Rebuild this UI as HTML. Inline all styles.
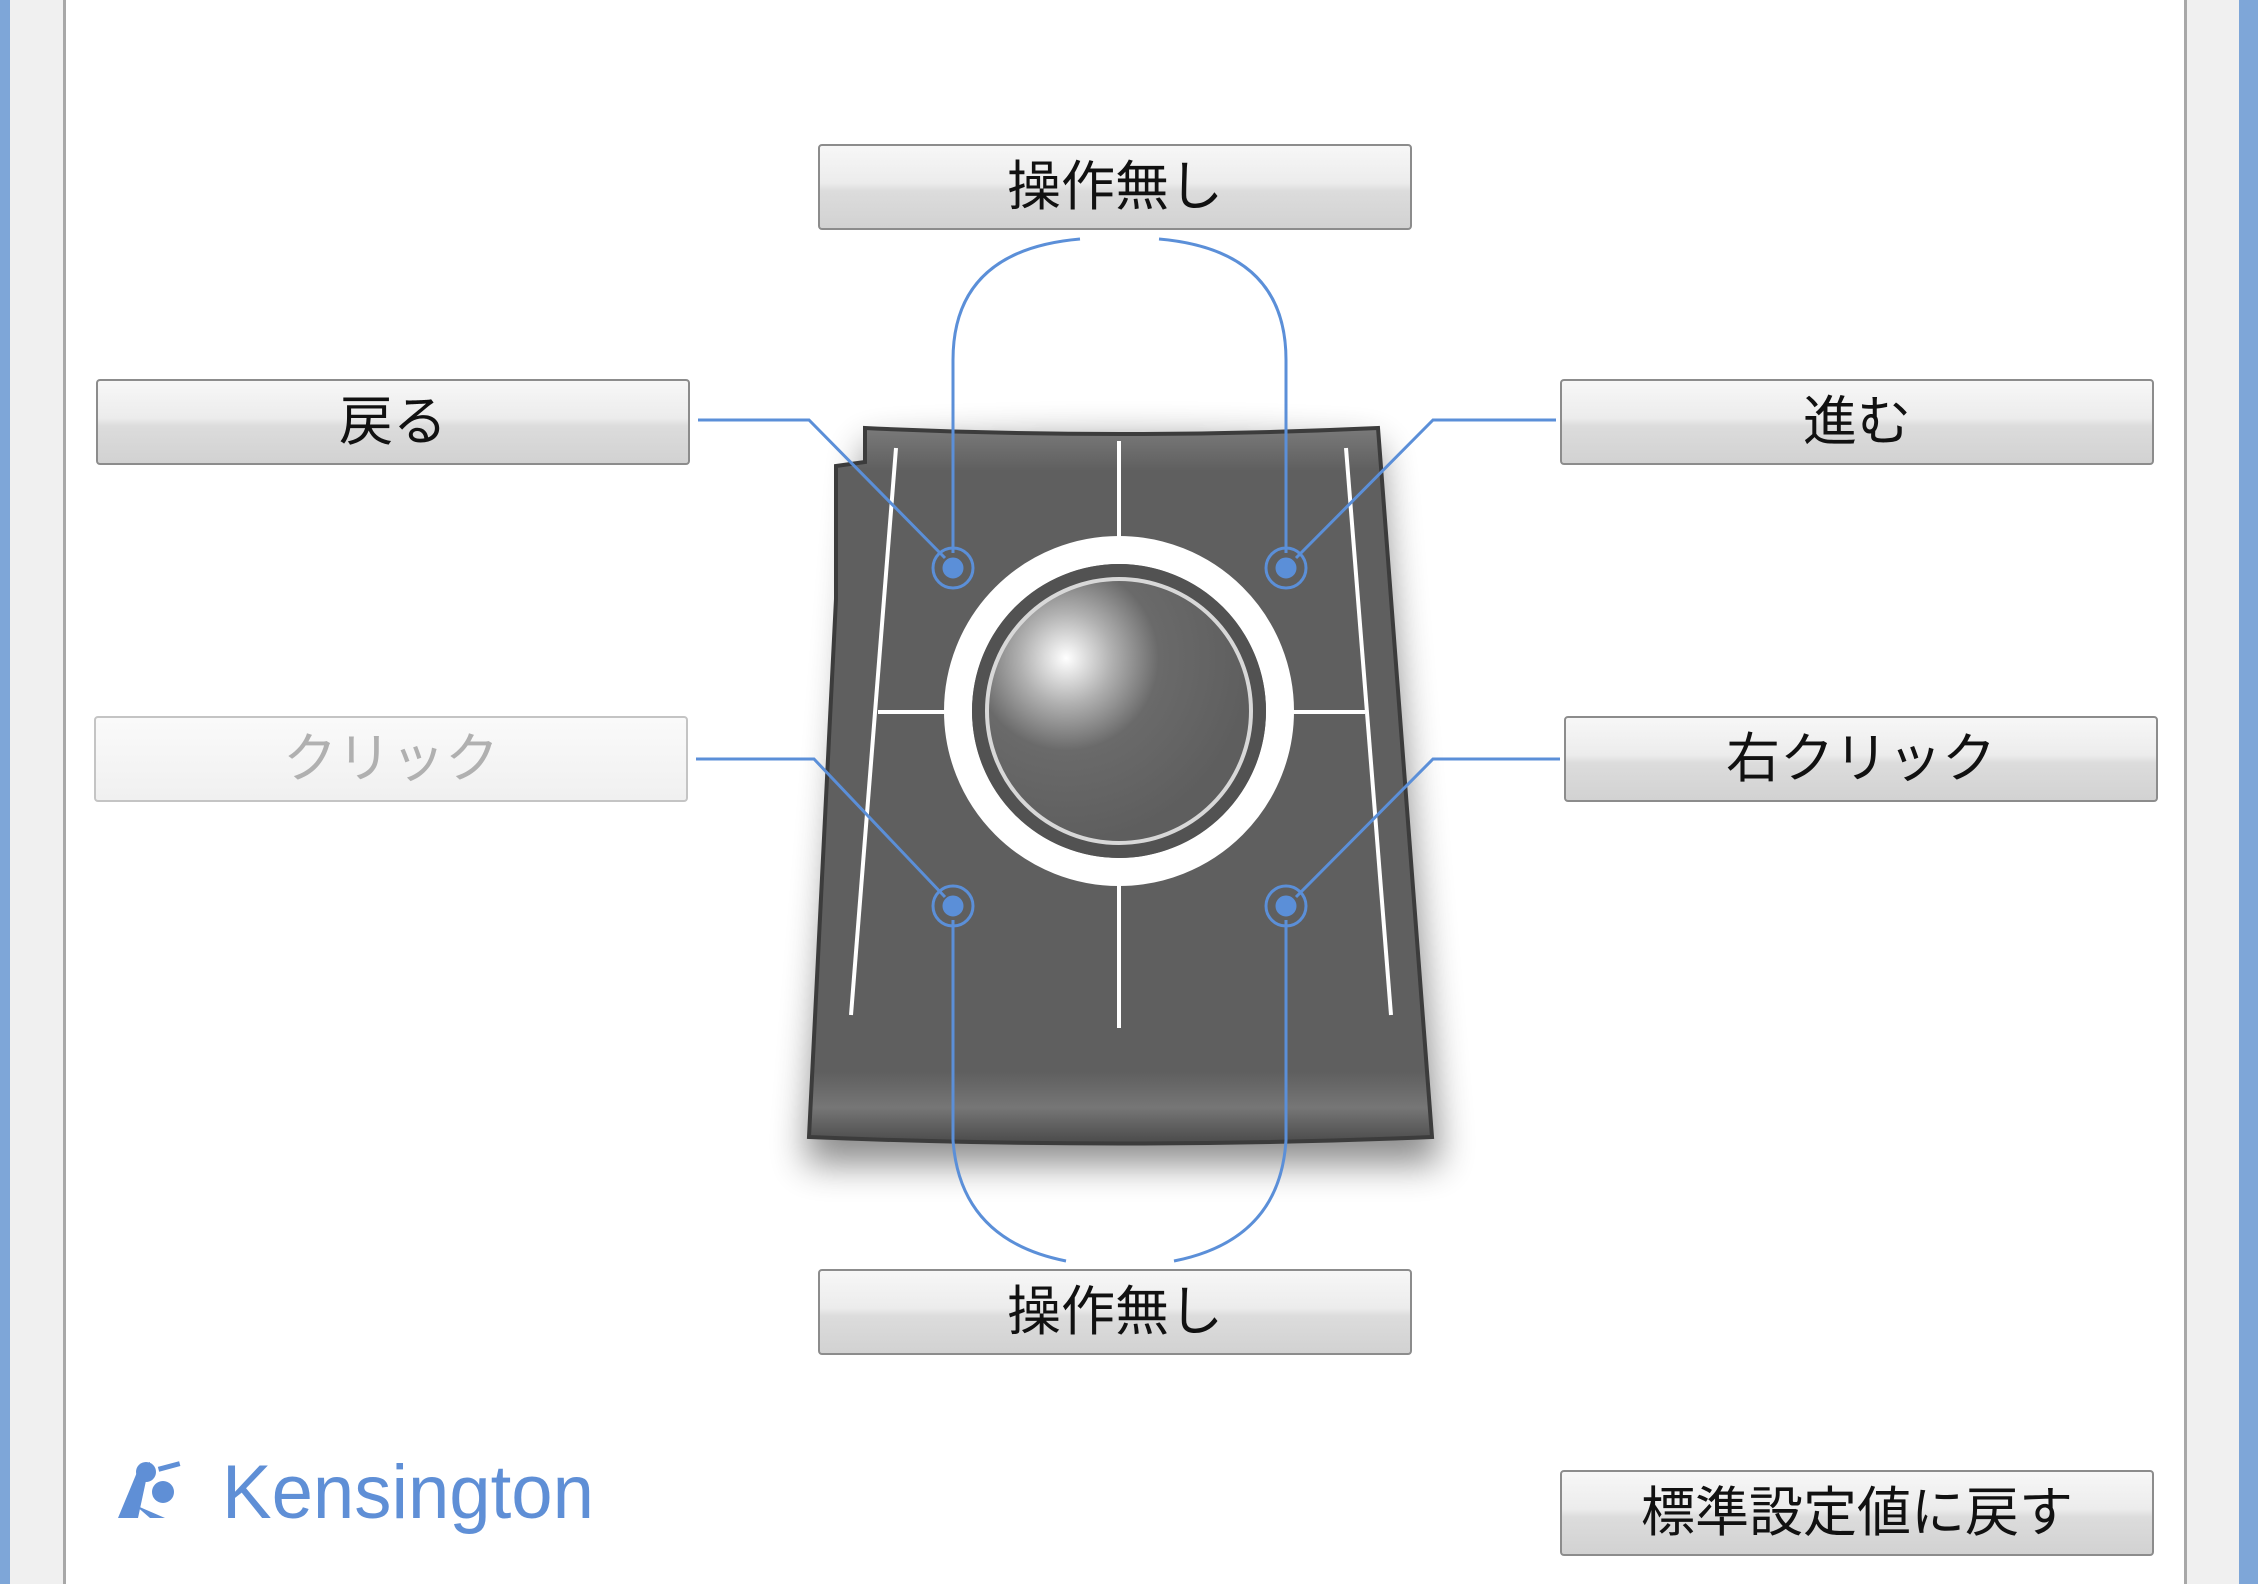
<!DOCTYPE html>
<html><head><meta charset="utf-8"><style>
html,body{margin:0;padding:0;width:2258px;height:1584px;overflow:hidden;background:#fff}
.btn{position:absolute;width:594px;height:86px;box-sizing:border-box;border:2px solid #8c8c8c;border-radius:4px;
background:linear-gradient(#f7f7f7 0%,#ececec 45%,#dcdcdc 55%,#d2d2d2 100%);
font-family:"Liberation Sans","Noto Sans CJK JP",sans-serif;font-size:54px;line-height:82px;text-align:center;color:#111}
.dis{background:linear-gradient(#fafafa,#f0f0f0);border-color:#c4c4c4;color:#b0b0b0}
</style></head><body>
<div style="position:absolute;left:0;top:0;width:10px;height:1584px;background:#7ea6d8"></div>
<div style="position:absolute;left:10px;top:0;width:54px;height:1584px;background:#f0f0f0"></div>
<div style="position:absolute;left:63px;top:0;width:3px;height:1584px;background:#a8a8a8"></div>
<div style="position:absolute;left:2184px;top:0;width:3px;height:1584px;background:#a8a8a8"></div>
<div style="position:absolute;left:2187px;top:0;width:52px;height:1584px;background:#f0f0f0"></div>
<div style="position:absolute;left:2239px;top:0;width:19px;height:1584px;background:#7ea6d8"></div>

<svg style="position:absolute;left:0;top:0" width="2258" height="1584">
<defs>
<filter id="sh" x="-20%" y="-20%" width="140%" height="140%"><feGaussianBlur stdDeviation="18"/></filter>
<radialGradient id="ball" cx="0.3" cy="0.3" r="0.7">
<stop offset="0" stop-color="#ffffff"/><stop offset="0.25" stop-color="#b0b0b0"/><stop offset="0.5" stop-color="#6a6a6a"/><stop offset="1" stop-color="#5e5e5e"/></radialGradient>
<linearGradient id="body" x1="0" y1="0" x2="0" y2="1">
<stop offset="0" stop-color="#7a7a7a"/><stop offset="0.06" stop-color="#5f5f5f"/><stop offset="0.9" stop-color="#5f5f5f"/><stop offset="0.95" stop-color="#767676"/><stop offset="1" stop-color="#4a4a4a"/></linearGradient>
</defs>
<path d="M865,432 Q1120,418 1378,432 L1440,1150 L805,1150 Z" fill="#000" opacity="0.45" filter="url(#sh)" transform="translate(0,14)"/>
<path d="M865,428 Q1120,440 1378,428 L1432,1137 Q1120,1150 809,1137 L836,599 L836,466 L865,462 Z" fill="url(#body)" stroke="#3c3c3c" stroke-width="4"/>
<g stroke="#fff" stroke-width="4" fill="none">
<line x1="896" y1="448" x2="851" y2="1015"/>
<line x1="1346" y1="448" x2="1391" y2="1015"/>
<line x1="1119" y1="441" x2="1119" y2="540"/>
<line x1="1119" y1="885" x2="1119" y2="1028"/>
<line x1="878" y1="712" x2="950" y2="712"/>
<line x1="1290" y1="712" x2="1365" y2="712"/>
</g>
<circle cx="1119" cy="711" r="161" fill="none" stroke="#fff" stroke-width="28"/>
<circle cx="1119" cy="711" r="147" fill="#525252"/>
<circle cx="1119" cy="711" r="132" fill="url(#ball)" stroke="#d8d8d8" stroke-width="4"/>
<g stroke="#5b8fd8" stroke-width="3" fill="none">
<polyline points="698,420 809,420 945,558"/>
<polyline points="696,759 814,759 945,897"/>
<polyline points="1556,420 1433,420 1296,558"/>
<polyline points="1560,759 1433,759 1296,897"/>
<path d="M953,553 L953,360 Q953,250 1080,239"/>
<path d="M1286,553 L1286,360 Q1286,250 1159,239"/>
<path d="M953,920 L953,1140 Q960,1240 1066,1261"/>
<path d="M1286,920 L1286,1140 Q1280,1240 1174,1261"/>
</g>
<g fill="#5b8fd8" stroke="#5b8fd8">
<circle cx="953" cy="568" r="10"/><circle cx="953" cy="568" r="20" fill="none" stroke-width="3"/>
<circle cx="1286" cy="568" r="10"/><circle cx="1286" cy="568" r="20" fill="none" stroke-width="3"/>
<circle cx="953" cy="906" r="10"/><circle cx="953" cy="906" r="20" fill="none" stroke-width="3"/>
<circle cx="1286" cy="906" r="10"/><circle cx="1286" cy="906" r="20" fill="none" stroke-width="3"/>
</g>
<g fill="#5f8fd6">
<path d="M140,1465 L150,1462 L138,1518 L118,1518 Z"/>
<circle cx="146" cy="1472" r="10"/>
<circle cx="163" cy="1492" r="11"/>
<path d="M135,1505 L165,1518 L150,1518 Z"/>
<rect x="158" y="1464" width="22" height="5" transform="rotate(-15 169 1466)"/>
</g>
<text x="222" y="1518" font-family="Liberation Sans, sans-serif" font-size="76" fill="#5f8fd6" textLength="372" lengthAdjust="spacingAndGlyphs">Kensington</text>
</svg>

<div class="btn" style="left:818px;top:144px">操作無し</div>
<div class="btn" style="left:96px;top:379px">戻る</div>
<div class="btn" style="left:1560px;top:379px">進む</div>
<div class="btn dis" style="left:94px;top:716px">クリック</div>
<div class="btn" style="left:1564px;top:716px">右クリック</div>
<div class="btn" style="left:818px;top:1269px">操作無し</div>
<div class="btn" style="left:1560px;top:1470px">標準設定値に戻す</div>
</body></html>
